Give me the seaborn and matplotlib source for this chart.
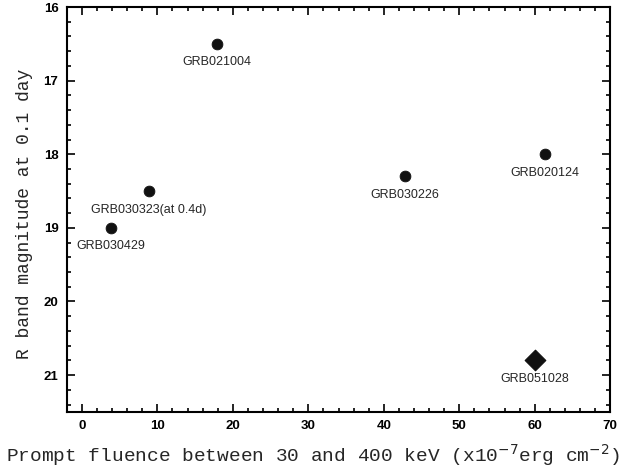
import matplotlib
matplotlib.use('Agg')
import matplotlib.pyplot as plt
import seaborn as sns
import pandas as pd
from matplotlib.ticker import MultipleLocator

# Data
names = ['GRB021004', 'GRB030323(at 0.4d)', 'GRB030429', 'GRB030226', 'GRB020124', 'GRB051028']
fluence = [17.9, 8.9, 3.8, 42.8, 61.3, 60.0]
r_mag = [16.5, 18.5, 19.0, 18.3, 18.0, 20.8]
kind = ['other', 'other', 'other', 'other', 'other', 'this']

df = pd.DataFrame({'name': names, 'fluence': fluence, 'rmag': r_mag, 'kind': kind})

sns.set_style('ticks', {'axes.edgecolor': 'black', 'xtick.color': 'black', 'ytick.color': 'black'})
plt.rcParams['font.family'] = ['Liberation Sans', 'DejaVu Sans']

fig = plt.figure(figsize=(6.24, 4.67), dpi=100)
ax = fig.add_axes([0.107, 0.118, 0.871, 0.867])

# circles for the comparison bursts, a diamond for GRB051028
sns.scatterplot(data=df[df['kind'] == 'other'], x='fluence', y='rmag', marker='o',
                s=60, color='#111111', edgecolor='#111111', ax=ax, legend=False)
sns.scatterplot(data=df[df['kind'] == 'this'], x='fluence', y='rmag', marker='D',
                s=110, color='#111111', edgecolor='#111111', ax=ax, legend=False)

for _, row in df.iterrows():
    ax.annotate(row['name'], (row['fluence'], row['rmag']), xytext=(0, -9),
                textcoords='offset points', ha='center', va='top', fontsize=9)

ax.set_xlim(-2, 70)
ax.set_ylim(21.5, 16)
ax.xaxis.set_major_locator(MultipleLocator(10))
ax.xaxis.set_minor_locator(MultipleLocator(2))
ax.yaxis.set_major_locator(MultipleLocator(1))
ax.yaxis.set_minor_locator(MultipleLocator(0.2))
ax.tick_params(which='both', direction='in', top=True, right=True, width=1.2, color='black')
ax.tick_params(which='major', length=6, labelsize=9.5, pad=6)
ax.tick_params(which='minor', length=3)
for lab in ax.get_xticklabels() + ax.get_yticklabels():
    lab.set_fontweight('bold')
for sp in ax.spines.values():
    sp.set_linewidth(1.5)
    sp.set_color('black')

ax.set_xlabel(r'Prompt fluence between 30 and 400 keV (x10$^{-7}$erg cm$^{-2}$)',
              fontsize=14, family='Liberation Mono')
ax.xaxis.set_label_coords(0.453, -0.075)
ax.set_ylabel('R band magnitude at 0.1 day', fontsize=13, family='Liberation Mono')
ax.yaxis.set_label_coords(-0.063, 0.49)

fig.savefig('out.png', dpi=100)
